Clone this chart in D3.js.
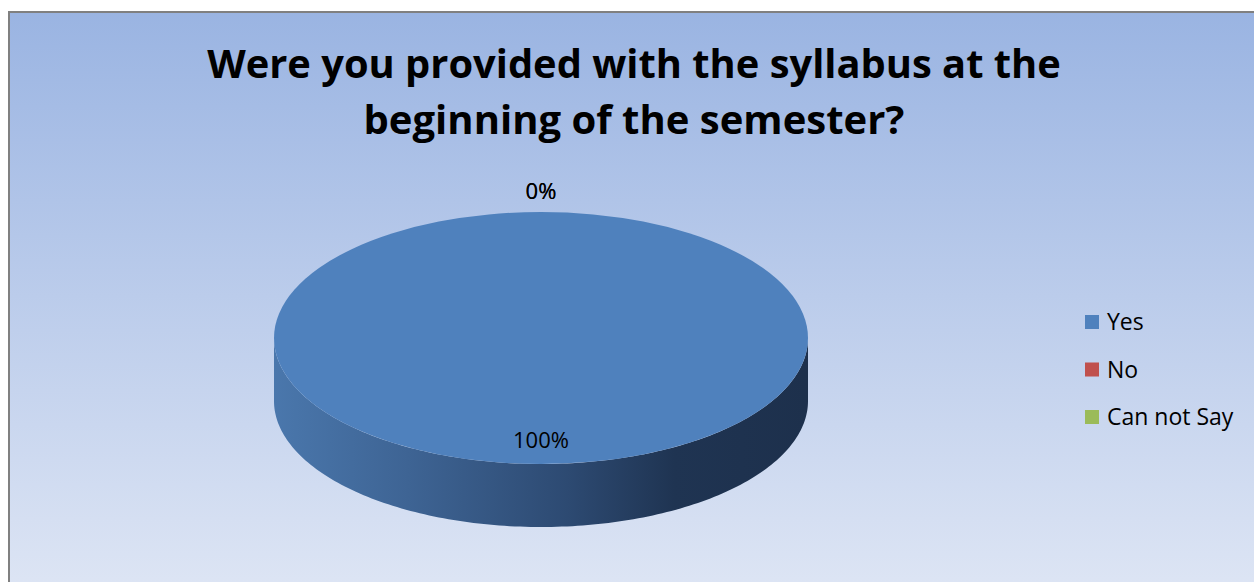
<!DOCTYPE html>
<html>
<head>
<meta charset="utf-8">
<script src="https://cdn.jsdelivr.net/npm/d3@7"></script>
<style>
  html, body { margin: 0; padding: 0; background: #ffffff; overflow: hidden; }
  svg { display: block; }
  text { font-family: "Open Sans", "Noto Sans", sans-serif; }
</style>
</head>
<body>
<svg id="chart" width="1254" height="582"></svg>
<script>
// ---- data ----
const categories = ["Yes", "No", "Can not Say"];
const values = [100, 0, 0];
const colors = ["#4f81bd", "#c0504d", "#9bbb59"];
const titleLines = ["Were you provided with the syllabus at the", "beginning of the semester?"];

const W = 1254, H = 582;
const svg = d3.select("#chart");
const defs = svg.append("defs");

// background gradient
const bg = defs.append("linearGradient").attr("id", "bg").attr("x1", 0).attr("y1", 0).attr("x2", 0).attr("y2", 1);
bg.append("stop").attr("offset", "0%").attr("stop-color", "#9ab4e2");
bg.append("stop").attr("offset", "100%").attr("stop-color", "#e0e7f5");

svg.append("rect").attr("x", 9).attr("y", 12).attr("width", W + 20).attr("height", H + 20)
  .attr("fill", "url(#bg)").attr("stroke", "#808080").attr("stroke-width", 2);

// title
const titleG = svg.append("g");
const titleTargets = [{ y: 78, w: 854 }, { y: 134, w: 541 }];
titleLines.forEach((line, i) => {
  const t = titleG.append("text")
    .attr("x", 634).attr("y", titleTargets[i].y)
    .attr("text-anchor", "middle")
    .attr("font-weight", "bold")
    .attr("font-size", 40)
    .attr("fill", "#000")
    .text(line);
  const len = t.node().getComputedTextLength();
  t.attr("font-size", 40 * titleTargets[i].w / len);
});

// 3D pie
const cx = 541, cy = 338, rx = 267, ry = 126, depth = 63;
const pieData = d3.pie().sort(null).value(d => d)(values);
const arc = d3.arc().innerRadius(0).outerRadius(rx);

// side gradient
const sg = defs.append("linearGradient").attr("id", "side").attr("gradientUnits", "userSpaceOnUse")
  .attr("x1", cx - rx).attr("y1", 0).attr("x2", cx + rx).attr("y2", 0);
sg.append("stop").attr("offset", "0%").attr("stop-color", "#4a77ac");
sg.append("stop").attr("offset", "25%").attr("stop-color", "#3e6494");
sg.append("stop").attr("offset", "55%").attr("stop-color", "#2d4a72");
sg.append("stop").attr("offset", "75%").attr("stop-color", "#1f3452");
sg.append("stop").attr("offset", "100%").attr("stop-color", "#1d304c");

// side of the Yes slice (front half of the cylinder)
const sidePts = [];
const N = 160;
for (let k = 0; k <= N; k++) {
  const a = Math.PI * k / N; // 0..pi across the front
  sidePts.push([cx + rx * Math.cos(a), cy + ry * Math.sin(a)]);
}
const sidePath = d3.path();
sidePath.moveTo(sidePts[0][0], sidePts[0][1]);
for (let k = 1; k <= N; k++) sidePath.lineTo(sidePts[k][0], sidePts[k][1]);
for (let k = N; k >= 0; k--) sidePath.lineTo(sidePts[k][0], sidePts[k][1] + depth);
sidePath.closePath();
svg.append("path").attr("d", sidePath.toString()).attr("fill", "url(#side)");

// top face: slices drawn through d3.arc, squashed vertically
const topFace = svg.append("g").attr("transform", `translate(${cx},${cy}) scale(1,${ry / rx})`);
topFace.selectAll("path").data(pieData).join("path")
  .attr("d", arc)
  .attr("fill", (d, i) => colors[i]);

// data labels
const lab = svg.append("g");
pieData.forEach((d, i) => {
  const pct = values[i] / d3.sum(values);
  const mid = (d.startAngle + d.endAngle) / 2;
  const r = pct > 0 ? 0.82 : 1.14;
  const px = cx + Math.sin(mid) * rx * r;
  let py = cy - Math.cos(mid) * ry * r;
  if (pct === 0) py = cy - ry - 20;
  lab.append("text")
    .attr("x", px).attr("y", py + 7)
    .attr("text-anchor", "middle")
    .attr("font-size", 22)
    .attr("fill", "#000")
    .text(d3.format(".0%")(pct));
});

// legend
const leg = svg.append("g");
categories.forEach((c, i) => {
  const y = 322 + i * 47.5;
  leg.append("rect").attr("x", 1085).attr("y", y - 7).attr("width", 14).attr("height", 14).attr("fill", colors[i]);
  leg.append("text").attr("x", 1107).attr("y", y + 8).attr("font-size", 23).attr("fill", "#000").text(c);
});
</script>
</body>
</html>
